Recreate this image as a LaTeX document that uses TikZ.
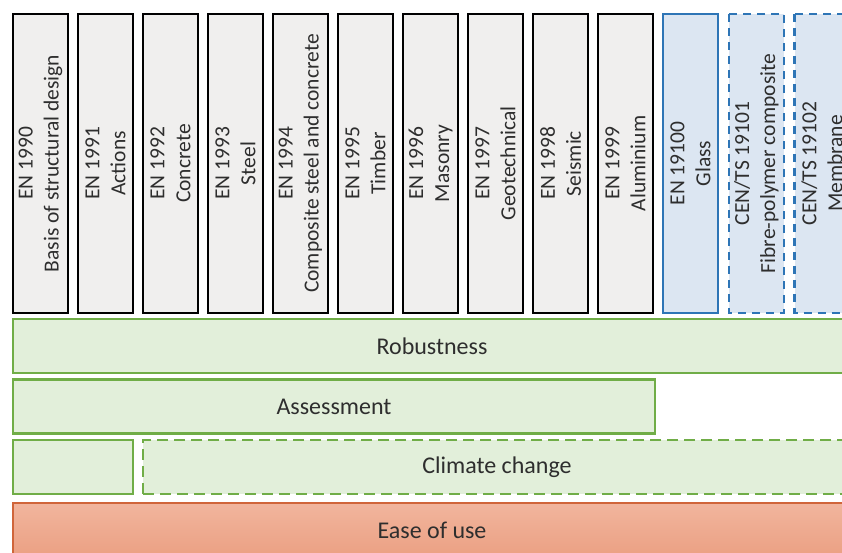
\documentclass[tikz,border=0pt]{standalone}
\usepackage{fontspec}
\setmainfont{Carlito}
\definecolor{txt}{HTML}{2E2E2E}
\definecolor{partfill}{HTML}{F0EFEE}
\definecolor{newline}{HTML}{2E75B6}
\definecolor{newfill}{HTML}{DCE6F2}
\definecolor{topicline}{HTML}{70AD47}
\definecolor{topicfill}{HTML}{E2EFDA}
\definecolor{easeline}{HTML}{D0653A}
\definecolor{easetop}{HTML}{F1B59D}
\definecolor{easebot}{HTML}{EBA083}
\begin{document}
\begin{tikzpicture}[x=1pt,y=-1pt,
    part/.style={draw=black, line width=2.6pt, fill=partfill, rotate=90,
      minimum width=299pt, minimum height=55pt, inner sep=0pt, align=center,
      font=\fontsize{21.5}{26}\selectfont, text=txt},
    glasspart/.style={part, draw=newline, line width=2.2pt, fill=newfill},
    newpart/.style={glasspart, dash pattern=on 8pt off 6pt},
    topic/.style={draw=topicline, line width=2.4pt, fill=topicfill, inner sep=0pt,
      minimum height=54pt, font=\fontsize{24}{28}\selectfont, text=txt},
    newtopic/.style={topic, dash pattern=on 11pt off 6pt}]
  \useasboundingbox (0,0) rectangle (842,552);
  \clip (0,0) rectangle (842,552);

  % Eurocode parts
  \node[part] (en1990) at (40.5,163.5) {EN 1990\\Basis of structural design};
  \node[part] (en1991) at (105.5,163.5) {EN 1991\\Actions};
  \node[part] (en1992) at (170.5,163.5) {EN 1992\\Concrete};
  \node[part] (en1993) at (235.5,163.5) {EN 1993\\Steel};
  \node[part] (en1994) at (300.5,163.5) {EN 1994\\Composite steel and concrete};
  \node[part] (en1995) at (365.5,163.5) {EN 1995\\Timber};
  \node[part] (en1996) at (430.5,163.5) {EN 1996\\Masonry};
  \node[part] (en1997) at (495.5,163.5) {EN 1997\\Geotechnical};
  \node[part] (en1998) at (560.5,163.5) {EN 1998\\Seismic};
  \node[part] (en1999) at (625.5,163.5) {EN 1999\\Aluminium};

  % New parts
  \node[glasspart] (en19100) at (690.5,163.5) {EN 19100\\Glass};
  \node[newpart] (ts19101) at (756.5,163.5) {CEN/TS 19101\\Fibre-polymer composite};
  \node[newpart] (ts19102) at (822,163.5) {CEN/TS 19102\\Membrane};

  % Cross-cutting topics
  \node[topic, minimum width=838pt] (robust) at (432,346) {Robustness};
  \node[topic, minimum width=642pt] (assess) at (334,406.5) {Assessment};
  \node[topic, minimum width=120pt] (climold) at (73,467) {};
  \node[newtopic, minimum width=708pt] (climate) at (497,467) {Climate change};

  % Ease of use
  \node[topic, draw=easeline, line width=2.4pt, top color=easetop, bottom color=easebot,
    minimum width=838pt] (ease) at (432,530) {Ease of use};
\end{tikzpicture}
\end{document}
